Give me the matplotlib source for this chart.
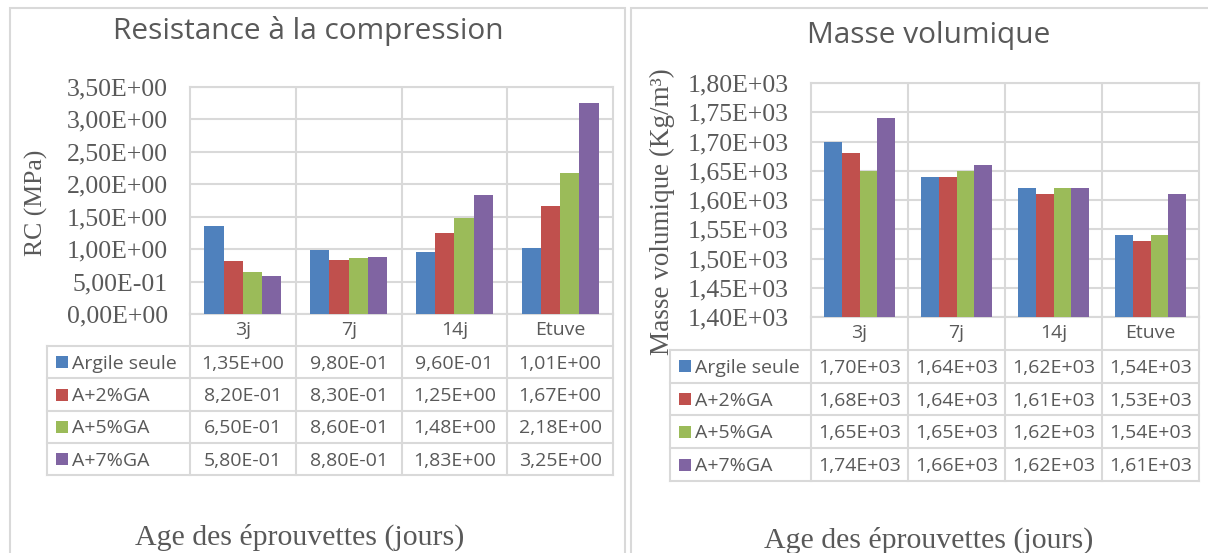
import numpy as np
import matplotlib
matplotlib.use("Agg")
import matplotlib.pyplot as plt
from matplotlib.patches import Rectangle

W, H = 1208, 553

# data
categories = ["3j", "7j", "14j", "Etuve"]
series = ["Argile seule", "A+2%GA", "A+5%GA", "A+7%GA"]
colors = ["#4F81BD", "#C0504D", "#9BBB59", "#8064A2"]

rc_argile = [1.35, 0.98, 0.96, 1.01]
rc_a2 = [0.82, 0.83, 1.25, 1.67]
rc_a5 = [0.65, 0.86, 1.48, 2.18]
rc_a7 = [0.58, 0.88, 1.83, 3.25]

mv_argile = [1700, 1640, 1620, 1540]
mv_a2 = [1680, 1640, 1610, 1530]
mv_a5 = [1650, 1650, 1620, 1540]
mv_a7 = [1740, 1660, 1620, 1610]

rc_ticks = [0, 0.5, 1.0, 1.5, 2.0, 2.5, 3.0, 3.5]
mv_ticks = [1400, 1450, 1500, 1550, 1600, 1650, 1700, 1750, 1800]

GRID = "#D9D9D9"
TXT = "#595959"
SERIF = "Liberation Serif"
SANS = "Open Sans"


def fmt(v):
    return f"{v:.2E}".replace(".", ",")


def fig_rect(x0, y0, x1, y1):
    return [x0 / W, 1 - y1 / H, (x1 - x0) / W, (y1 - y0) / H]


def panel(fig, data, ticks, box, leg_left, table_bottom, title, title_xy,
          ylabel, ylabel_xy, ylabel_size, xlabel_xy):
    x0, y0, x1, y1 = box
    ax = fig.add_axes(fig_rect(x0, y0, x1, y1))
    n = len(series)
    bw = 1 / (n + 1.5)
    xs = np.arange(len(categories)) + 0.5
    for j, vals in enumerate(data):
        ax.bar(xs + (j - (n - 1) / 2) * bw, vals, width=bw, color=colors[j],
               zorder=3, linewidth=0)
    ax.set_xlim(0, len(categories))
    ax.set_ylim(ticks[0], ticks[-1])
    ax.set_yticks(ticks)
    ax.set_yticklabels([fmt(t) for t in ticks], fontfamily=SERIF,
                       fontsize=18.5, color=TXT)
    ax.set_xticks([])
    ax.tick_params(axis="y", length=0, pad=16)
    for t in ticks:
        ax.axhline(t, color=GRID, lw=1.5, zorder=1)
    for k in range(1, len(categories)):
        ax.axvline(k, color=GRID, lw=1.5, zorder=1)
    for s in ax.spines.values():
        s.set_color(GRID)
        s.set_linewidth(1.5)

    # data table below the plot
    cw = (x1 - x0) / len(categories)
    lw = (x0 - leg_left) / cw
    tax = fig.add_axes(fig_rect(leg_left, y1, x1, table_bottom))
    tax.set_xlim(-lw, len(categories))
    tax.set_ylim(len(series) + 1, 0)
    tax.axis("off")
    kw = dict(color=GRID, lw=1.5, clip_on=False)
    for k in range(len(categories) + 1):
        tax.plot([k, k], [0, len(series) + 1], **kw)
    tax.plot([-lw, -lw], [1, len(series) + 1], **kw)
    for r in range(1, len(series) + 2):
        tax.plot([-lw, len(categories)], [r, r], **kw)
    for i, c in enumerate(categories):
        tax.text(i + 0.5, 0.5, c, ha="center", va="center", fontsize=14,
                 color=TXT, fontfamily=SANS)
    for j, vals in enumerate(data):
        tax.plot([-lw + 15 / cw], [j + 1.5], marker="s", markersize=8.5,
                 color=colors[j], clip_on=False, markeredgewidth=0)
        tax.text(-lw + 25 / cw, j + 1.55, series[j], ha="left", va="center",
                 fontsize=14, color=TXT, fontfamily=SANS)
        for i, v in enumerate(vals):
            tax.text(i + 0.5, j + 1.55, fmt(v), ha="center", va="center",
                     fontsize=14, color=TXT, fontfamily=SANS)

    fig.text(title_xy[0] / W, 1 - title_xy[1] / H, title, ha="center",
             va="center", fontsize=21.5, color=TXT, fontfamily=SANS)
    fig.text(ylabel_xy[0] / W, 1 - ylabel_xy[1] / H, ylabel, ha="center",
             va="center", rotation=90, fontsize=ylabel_size, color=TXT,
             fontfamily=SERIF)
    fig.text(xlabel_xy[0] / W, 1 - xlabel_xy[1] / H,
             "Age des éprouvettes (jours)", ha="center", va="center",
             fontsize=21.5, color=TXT, fontfamily=SERIF)


fig = plt.figure(figsize=(W / 100, H / 100), dpi=100)

# panel frames
for (a, b, c, d) in [(10, 8, 625, 570), (631, 8, 1225, 570)]:
    fig.add_artist(Rectangle((a / W, 1 - d / H), (c - a) / W, (d - b) / H,
                             transform=fig.transFigure, fill=False,
                             edgecolor=GRID, lw=1.5))

panel(fig, [rc_argile, rc_a2, rc_a5, rc_a7], rc_ticks,
      (190, 87, 613, 314), 47, 475,
      "Resistance à la compression", (308, 31),
      "RC (MPa)", (36, 203), 18.5, (300, 537))

panel(fig, [mv_argile, mv_a2, mv_a5, mv_a7], mv_ticks,
      (811, 83, 1199, 317), 670, 481,
      "Masse volumique", (929, 36),
      "Masse volumique (Kg/m³)", (662, 212), 19.5, (929, 540))

fig.savefig("out.png", dpi=100)
